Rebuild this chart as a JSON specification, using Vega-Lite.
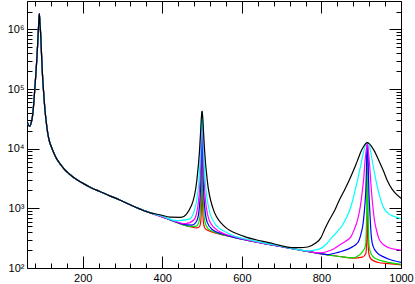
{
  "$schema": "https://vega.github.io/schema/vega-lite/v6.json",
  "width": 374,
  "height": 267,
  "autosize": "none",
  "padding": {"left": 27, "top": 1, "right": 14, "bottom": 16},
  "config": {
    "view": {"stroke": "black", "strokeWidth": 1},
    "axis": {"grid": false, "domain": false, "tickColor": "black", "tickWidth": 1, "labelColor": "black", "labelFont": "Liberation Sans", "labelFontSize": 11, "labelFlush": false, "labelOverlap": false, "title": null}
  },
  "data": {"values": [
    {"c":"r","x":60,"y":29000},{"c":"r","x":63,"y":25500},{"c":"r","x":67,"y":24000},{"c":"r","x":71,"y":28000},{"c":"r","x":74,"y":36000},{"c":"r","x":77,"y":58000},{"c":"r","x":80,"y":110000},{"c":"r","x":83,"y":210000},{"c":"r","x":86,"y":450000},{"c":"r","x":88,"y":830000},{"c":"r","x":89.5,"y":1300000},{"c":"r","x":91,"y":1850000},{"c":"r","x":92.5,"y":1300000},{"c":"r","x":94.5,"y":800000},{"c":"r","x":97,"y":320000},{"c":"r","x":99,"y":170000},{"c":"r","x":101,"y":105000},{"c":"r","x":105,"y":46000},{"c":"r","x":109,"y":26000},{"c":"r","x":112,"y":18400},{"c":"r","x":116,"y":13600},{"c":"r","x":120,"y":11300},{"c":"r","x":125,"y":9260},{"c":"r","x":130,"y":7800},{"c":"r","x":135,"y":6700},{"c":"r","x":140,"y":5960},{"c":"r","x":147,"y":5150},{"c":"r","x":155,"y":4440},{"c":"r","x":165,"y":3850},{"c":"r","x":180,"y":3200},{"c":"r","x":200,"y":2650},{"c":"r","x":220,"y":2235},{"c":"r","x":243,"y":1920},{"c":"r","x":268,"y":1622},{"c":"r","x":293,"y":1385},{"c":"r","x":318,"y":1160},{"c":"r","x":343,"y":980},{"c":"r","x":370,"y":840},
    {"c":"r","x":400,"y":720},{"c":"r","x":420,"y":640},{"c":"r","x":443,"y":560},{"c":"r","x":470,"y":492},{"c":"r","x":487.2,"y":471},{"c":"r","x":493.6,"y":494},{"c":"r","x":496.8,"y":613},{"c":"r","x":498.4,"y":1093},{"c":"r","x":499.2,"y":2916},{"c":"r","x":499.6,"y":8846},{"c":"r","x":499.8,"y":21445},{"c":"r","x":499.9,"y":34045},{"c":"r","x":500,"y":42444},{"c":"r","x":500.1,"y":34044},{"c":"r","x":500.2,"y":21444},{"c":"r","x":500.4,"y":8844},{"c":"r","x":500.8,"y":2913},{"c":"r","x":501.6,"y":1086},{"c":"r","x":503.2,"y":603},{"c":"r","x":506.4,"y":474},{"c":"r","x":512.8,"y":433},{"c":"r","x":540,"y":378},{"c":"r","x":570,"y":338},{"c":"r","x":600,"y":303},{"c":"r","x":650,"y":262},{"c":"r","x":700,"y":228},{"c":"r","x":750,"y":197},{"c":"r","x":800,"y":172},{"c":"r","x":845,"y":156},{"c":"r","x":880,"y":146},{"c":"r","x":903,"y":152},{"c":"r","x":911.5,"y":175},{"c":"r","x":913.5,"y":250},{"c":"r","x":914.5,"y":600},{"c":"r","x":915,"y":2000},{"c":"r","x":915.25,"y":6000},{"c":"r","x":915.5,"y":12700},{"c":"r","x":915.75,"y":6000},{"c":"r","x":916,"y":2000},{"c":"r","x":916.5,"y":600},{"c":"r","x":917.5,"y":250},{"c":"r","x":919.5,"y":170},{"c":"r","x":925,"y":140},{"c":"r","x":940,"y":125},{"c":"r","x":970,"y":118},{"c":"r","x":1000,"y":113},

    {"c":"g","x":60,"y":29000},{"c":"g","x":63,"y":25500},{"c":"g","x":67,"y":24000},{"c":"g","x":71,"y":28000},{"c":"g","x":74,"y":36000},{"c":"g","x":77,"y":58000},{"c":"g","x":80,"y":110000},{"c":"g","x":83,"y":210000},{"c":"g","x":86,"y":450000},{"c":"g","x":88,"y":830000},{"c":"g","x":89.5,"y":1300000},{"c":"g","x":91,"y":1850000},{"c":"g","x":92.5,"y":1300000},{"c":"g","x":94.5,"y":800000},{"c":"g","x":97,"y":320000},{"c":"g","x":99,"y":170000},{"c":"g","x":101,"y":105000},{"c":"g","x":105,"y":46000},{"c":"g","x":109,"y":26000},{"c":"g","x":112,"y":18400},{"c":"g","x":116,"y":13600},{"c":"g","x":120,"y":11300},{"c":"g","x":125,"y":9260},{"c":"g","x":130,"y":7800},{"c":"g","x":135,"y":6700},{"c":"g","x":140,"y":5960},{"c":"g","x":147,"y":5150},{"c":"g","x":155,"y":4440},{"c":"g","x":165,"y":3850},{"c":"g","x":180,"y":3200},{"c":"g","x":200,"y":2650},{"c":"g","x":220,"y":2235},{"c":"g","x":243,"y":1920},{"c":"g","x":268,"y":1622},{"c":"g","x":293,"y":1385},{"c":"g","x":318,"y":1160},{"c":"g","x":343,"y":980},{"c":"g","x":370,"y":840},
    {"c":"g","x":400,"y":720},{"c":"g","x":420,"y":640},{"c":"g","x":443,"y":560},{"c":"g","x":471.2,"y":498},{"c":"g","x":485.6,"y":505},{"c":"g","x":492.8,"y":618},{"c":"g","x":496.4,"y":1096},{"c":"g","x":498.2,"y":2917},{"c":"g","x":499.1,"y":8846},{"c":"g","x":499.55,"y":21445},{"c":"g","x":499.775,"y":34045},{"c":"g","x":500,"y":42444},{"c":"g","x":500.225,"y":34044},{"c":"g","x":500.45,"y":21444},{"c":"g","x":500.9,"y":8843},{"c":"g","x":501.8,"y":2911},{"c":"g","x":503.6,"y":1084},{"c":"g","x":507.2,"y":596},{"c":"g","x":514.4,"y":462},{"c":"g","x":528.8,"y":406},{"c":"g","x":560,"y":351},{"c":"g","x":600,"y":303},{"c":"g","x":650,"y":262},{"c":"g","x":700,"y":228},{"c":"g","x":750,"y":197},{"c":"g","x":800,"y":172},{"c":"g","x":845,"y":156},{"c":"g","x":877.9,"y":148},{"c":"g","x":895.5,"y":165},{"c":"g","x":903,"y":187},{"c":"g","x":908.5,"y":215},{"c":"g","x":911.5,"y":258},{"c":"g","x":913,"y":500},{"c":"g","x":914,"y":1050},{"c":"g","x":914.5,"y":2500},{"c":"g","x":915,"y":7000},{"c":"g","x":915.5,"y":12700},{"c":"g","x":916,"y":7000},{"c":"g","x":916.5,"y":2500},{"c":"g","x":917,"y":1050},{"c":"g","x":918,"y":500},{"c":"g","x":919.5,"y":250},{"c":"g","x":922.5,"y":190},{"c":"g","x":928,"y":160},{"c":"g","x":940,"y":140},{"c":"g","x":960,"y":128},{"c":"g","x":1000,"y":115},

    {"c":"b","x":60,"y":29000},{"c":"b","x":63,"y":25500},{"c":"b","x":67,"y":24000},{"c":"b","x":71,"y":28000},{"c":"b","x":74,"y":36000},{"c":"b","x":77,"y":58000},{"c":"b","x":80,"y":110000},{"c":"b","x":83,"y":210000},{"c":"b","x":86,"y":450000},{"c":"b","x":88,"y":830000},{"c":"b","x":89.5,"y":1300000},{"c":"b","x":91,"y":1850000},{"c":"b","x":92.5,"y":1300000},{"c":"b","x":94.5,"y":800000},{"c":"b","x":97,"y":320000},{"c":"b","x":99,"y":170000},{"c":"b","x":101,"y":105000},{"c":"b","x":105,"y":46000},{"c":"b","x":109,"y":26000},{"c":"b","x":112,"y":18400},{"c":"b","x":116,"y":13600},{"c":"b","x":120,"y":11300},{"c":"b","x":125,"y":9260},{"c":"b","x":130,"y":7800},{"c":"b","x":135,"y":6700},{"c":"b","x":140,"y":5960},{"c":"b","x":147,"y":5150},{"c":"b","x":155,"y":4440},{"c":"b","x":165,"y":3850},{"c":"b","x":180,"y":3200},{"c":"b","x":200,"y":2650},{"c":"b","x":220,"y":2235},{"c":"b","x":243,"y":1920},{"c":"b","x":268,"y":1622},{"c":"b","x":293,"y":1385},{"c":"b","x":318,"y":1160},{"c":"b","x":343,"y":980},{"c":"b","x":370,"y":840},
    {"c":"b","x":400,"y":720},{"c":"b","x":420,"y":640},{"c":"b","x":448.8,"y":549},{"c":"b","x":474.4,"y":523},{"c":"b","x":487.2,"y":625},{"c":"b","x":493.6,"y":1099},{"c":"b","x":496.8,"y":2919},{"c":"b","x":498.4,"y":8847},{"c":"b","x":499.2,"y":21446},{"c":"b","x":499.6,"y":34045},{"c":"b","x":500,"y":42444},{"c":"b","x":500.4,"y":34044},{"c":"b","x":500.8,"y":21443},{"c":"b","x":501.6,"y":8841},{"c":"b","x":503.2,"y":2909},{"c":"b","x":506.4,"y":1079},{"c":"b","x":512.8,"y":587},{"c":"b","x":525.6,"y":442},{"c":"b","x":551.2,"y":372},{"c":"b","x":600,"y":303},{"c":"b","x":650,"y":262},{"c":"b","x":700,"y":228},{"c":"b","x":750,"y":197},{"c":"b","x":790,"y":178},{"c":"b","x":815.5,"y":168},{"c":"b","x":844.5,"y":185},{"c":"b","x":865.5,"y":205},{"c":"b","x":877.9,"y":226},{"c":"b","x":887.5,"y":250},{"c":"b","x":894.7,"y":293},{"c":"b","x":900.5,"y":400},{"c":"b","x":904.7,"y":556},{"c":"b","x":908.5,"y":1000},{"c":"b","x":911.5,"y":2000},{"c":"b","x":913,"y":4000},{"c":"b","x":914,"y":8000},{"c":"b","x":915.5,"y":12700},{"c":"b","x":917,"y":8000},{"c":"b","x":918,"y":4000},{"c":"b","x":919.5,"y":1800},{"c":"b","x":922,"y":800},{"c":"b","x":925.5,"y":330},{"c":"b","x":930,"y":230},{"c":"b","x":940,"y":180},{"c":"b","x":955,"y":155},{"c":"b","x":970,"y":140},{"c":"b","x":1000,"y":124},

    {"c":"m","x":60,"y":29000},{"c":"m","x":63,"y":25500},{"c":"m","x":67,"y":24000},{"c":"m","x":71,"y":28000},{"c":"m","x":74,"y":36000},{"c":"m","x":77,"y":58000},{"c":"m","x":80,"y":110000},{"c":"m","x":83,"y":210000},{"c":"m","x":86,"y":450000},{"c":"m","x":88,"y":830000},{"c":"m","x":89.5,"y":1300000},{"c":"m","x":91,"y":1850000},{"c":"m","x":92.5,"y":1300000},{"c":"m","x":94.5,"y":800000},{"c":"m","x":97,"y":320000},{"c":"m","x":99,"y":170000},{"c":"m","x":101,"y":105000},{"c":"m","x":105,"y":46000},{"c":"m","x":109,"y":26000},{"c":"m","x":112,"y":18400},{"c":"m","x":116,"y":13600},{"c":"m","x":120,"y":11300},{"c":"m","x":125,"y":9260},{"c":"m","x":130,"y":7800},{"c":"m","x":135,"y":6700},{"c":"m","x":140,"y":5960},{"c":"m","x":147,"y":5150},{"c":"m","x":155,"y":4440},{"c":"m","x":165,"y":3850},{"c":"m","x":180,"y":3200},{"c":"m","x":200,"y":2650},{"c":"m","x":220,"y":2235},{"c":"m","x":243,"y":1920},{"c":"m","x":268,"y":1622},{"c":"m","x":293,"y":1385},{"c":"m","x":318,"y":1160},{"c":"m","x":343,"y":980},{"c":"m","x":370,"y":840},
    {"c":"m","x":400,"y":720},{"c":"m","x":416.8,"y":662},{"c":"m","x":458.4,"y":555},{"c":"m","x":479.2,"y":638},{"c":"m","x":489.6,"y":1103},{"c":"m","x":494.8,"y":2921},{"c":"m","x":497.4,"y":8848},{"c":"m","x":498.7,"y":21446},{"c":"m","x":499.35,"y":34045},{"c":"m","x":500,"y":42444},{"c":"m","x":500.65,"y":34043},{"c":"m","x":501.3,"y":21442},{"c":"m","x":502.6,"y":8840},{"c":"m","x":505.2,"y":2905},{"c":"m","x":510.4,"y":1073},{"c":"m","x":520.8,"y":573},{"c":"m","x":541.6,"y":417},{"c":"m","x":583.2,"y":332},{"c":"m","x":620,"y":288},{"c":"m","x":670,"y":248},{"c":"m","x":720,"y":216},{"c":"m","x":760,"y":193},{"c":"m","x":794.5,"y":180},{"c":"m","x":825.5,"y":200},{"c":"m","x":844.5,"y":240},{"c":"m","x":860.5,"y":280},{"c":"m","x":873.9,"y":333},{"c":"m","x":882.5,"y":440},{"c":"m","x":890.5,"y":631},{"c":"m","x":897.5,"y":1050},{"c":"m","x":903,"y":2000},{"c":"m","x":906.5,"y":3300},{"c":"m","x":909.7,"y":6310},{"c":"m","x":913,"y":10000},{"c":"m","x":915.5,"y":12700},{"c":"m","x":918,"y":9000},{"c":"m","x":921,"y":5500},{"c":"m","x":924,"y":2800},{"c":"m","x":928,"y":1300},{"c":"m","x":933,"y":650},{"c":"m","x":940,"y":390},{"c":"m","x":945,"y":305},{"c":"m","x":955,"y":250},{"c":"m","x":970,"y":218},{"c":"m","x":985,"y":206},{"c":"m","x":1000,"y":200},

    {"c":"c","x":60,"y":29000},{"c":"c","x":63,"y":25500},{"c":"c","x":67,"y":24000},{"c":"c","x":71,"y":28000},{"c":"c","x":74,"y":36000},{"c":"c","x":77,"y":58000},{"c":"c","x":80,"y":110000},{"c":"c","x":83,"y":210000},{"c":"c","x":86,"y":450000},{"c":"c","x":88,"y":830000},{"c":"c","x":89.5,"y":1300000},{"c":"c","x":91,"y":1850000},{"c":"c","x":92.5,"y":1300000},{"c":"c","x":94.5,"y":800000},{"c":"c","x":97,"y":320000},{"c":"c","x":99,"y":170000},{"c":"c","x":101,"y":105000},{"c":"c","x":105,"y":46000},{"c":"c","x":109,"y":26000},{"c":"c","x":112,"y":18400},{"c":"c","x":116,"y":13600},{"c":"c","x":120,"y":11300},{"c":"c","x":125,"y":9260},{"c":"c","x":130,"y":7800},{"c":"c","x":135,"y":6700},{"c":"c","x":140,"y":5960},{"c":"c","x":147,"y":5150},{"c":"c","x":155,"y":4440},{"c":"c","x":165,"y":3850},{"c":"c","x":180,"y":3200},{"c":"c","x":200,"y":2650},{"c":"c","x":220,"y":2235},{"c":"c","x":243,"y":1920},{"c":"c","x":268,"y":1622},{"c":"c","x":293,"y":1385},{"c":"c","x":318,"y":1160},{"c":"c","x":343,"y":980},{"c":"c","x":370,"y":840},
    {"c":"c","x":400,"y":737},{"c":"c","x":436,"y":621},{"c":"c","x":468,"y":658},{"c":"c","x":484,"y":1112},{"c":"c","x":492,"y":2925},{"c":"c","x":496,"y":8850},{"c":"c","x":498,"y":21447},{"c":"c","x":499,"y":34046},{"c":"c","x":500,"y":42444},{"c":"c","x":501,"y":34043},{"c":"c","x":502,"y":21441},{"c":"c","x":504,"y":8837},{"c":"c","x":508,"y":2901},{"c":"c","x":516,"y":1064},{"c":"c","x":532,"y":555},{"c":"c","x":564,"y":387},{"c":"c","x":628,"y":288},{"c":"c","x":670,"y":252},{"c":"c","x":700,"y":231},{"c":"c","x":740,"y":204},{"c":"c","x":765.5,"y":194},{"c":"c","x":794.5,"y":207},{"c":"c","x":815.5,"y":265},{"c":"c","x":827.7,"y":333},{"c":"c","x":840.5,"y":410},{"c":"c","x":852.8,"y":521},{"c":"c","x":865.5,"y":760},{"c":"c","x":873.9,"y":1052},{"c":"c","x":882.5,"y":1750},{"c":"c","x":890.5,"y":2930},{"c":"c","x":897.5,"y":4800},{"c":"c","x":903,"y":7160},{"c":"c","x":910.5,"y":11500},{"c":"c","x":915.5,"y":12700},{"c":"c","x":920.5,"y":11500},{"c":"c","x":923.5,"y":9000},{"c":"c","x":932.2,"y":4300},{"c":"c","x":940.5,"y":2300},{"c":"c","x":957.3,"y":1000},{"c":"c","x":970.5,"y":800},{"c":"c","x":985.5,"y":720},{"c":"c","x":1000,"y":673},

    {"c":"k","x":60,"y":29000},{"c":"k","x":63,"y":25500},{"c":"k","x":67,"y":24000},{"c":"k","x":71,"y":28000},{"c":"k","x":74,"y":36000},{"c":"k","x":77,"y":58000},{"c":"k","x":80,"y":110000},{"c":"k","x":83,"y":210000},{"c":"k","x":86,"y":450000},{"c":"k","x":88,"y":830000},{"c":"k","x":89.5,"y":1300000},{"c":"k","x":91,"y":1850000},{"c":"k","x":92.5,"y":1300000},{"c":"k","x":94.5,"y":800000},{"c":"k","x":97,"y":320000},{"c":"k","x":99,"y":170000},{"c":"k","x":101,"y":105000},{"c":"k","x":105,"y":46000},{"c":"k","x":109,"y":26000},{"c":"k","x":112,"y":18400},{"c":"k","x":116,"y":13600},{"c":"k","x":120,"y":11300},{"c":"k","x":125,"y":9260},{"c":"k","x":130,"y":7800},{"c":"k","x":135,"y":6700},{"c":"k","x":140,"y":5960},{"c":"k","x":147,"y":5150},{"c":"k","x":155,"y":4440},{"c":"k","x":165,"y":3850},{"c":"k","x":180,"y":3200},{"c":"k","x":200,"y":2650},{"c":"k","x":220,"y":2235},{"c":"k","x":243,"y":1920},{"c":"k","x":268,"y":1622},{"c":"k","x":293,"y":1385},{"c":"k","x":318,"y":1160},{"c":"k","x":343,"y":980},{"c":"k","x":370,"y":840},
    {"c":"k","x":394.4,"y":782},{"c":"k","x":420,"y":711},{"c":"k","x":447.2,"y":707},{"c":"k","x":473.6,"y":1130},{"c":"k","x":486.8,"y":2932},{"c":"k","x":493.4,"y":8853},{"c":"k","x":496.7,"y":21449},{"c":"k","x":498.35,"y":34046},{"c":"k","x":500,"y":42444},{"c":"k","x":501.65,"y":34041},{"c":"k","x":503.3,"y":21438},{"c":"k","x":506.6,"y":8833},{"c":"k","x":513.2,"y":2893},{"c":"k","x":526.4,"y":1046},{"c":"k","x":552.8,"y":524},{"c":"k","x":605.6,"y":339},{"c":"k","x":650,"y":282},{"c":"k","x":680,"y":255},{"c":"k","x":700,"y":236},{"c":"k","x":715.5,"y":224},{"c":"k","x":730,"y":219},{"c":"k","x":745,"y":219},{"c":"k","x":765.5,"y":225},{"c":"k","x":785.5,"y":262},{"c":"k","x":798.5,"y":320},{"c":"k","x":808.5,"y":450},{"c":"k","x":819.5,"y":631},{"c":"k","x":832.5,"y":900},{"c":"k","x":844.5,"y":1360},{"c":"k","x":857.5,"y":2000},{"c":"k","x":869.5,"y":2930},{"c":"k","x":880.5,"y":4300},{"c":"k","x":890.5,"y":6310},{"c":"k","x":900.5,"y":9300},{"c":"k","x":907.2,"y":11200},{"c":"k","x":911.5,"y":12300},{"c":"k","x":915.5,"y":12700},{"c":"k","x":919.5,"y":12300},{"c":"k","x":924.5,"y":11300},{"c":"k","x":932.5,"y":9300},{"c":"k","x":944.5,"y":6310},{"c":"k","x":955.5,"y":4300},{"c":"k","x":965.5,"y":2930},{"c":"k","x":977.5,"y":2100},{"c":"k","x":987.5,"y":1750},{"c":"k","x":1000,"y":1470}
  ]},
  "layer": [
    {
      "mark": {"type": "line", "strokeWidth": 1.2, "clip": true, "interpolate": "monotone"},
      "encoding": {
        "x": {"field": "x", "type": "quantitative", "scale": {"domain": [60, 1000], "nice": false, "zero": false},
              "axis": {"orient": "bottom", "values": [200, 400, 600, 800, 1000], "tickSize": -12, "labelPadding": 16, "format": "d"}},
        "y": {"field": "y", "type": "quantitative", "scale": {"type": "log", "domain": [100, 3000000], "nice": false},
              "axis": {"orient": "left", "values": [100, 1000, 10000, 100000, 1000000], "tickSize": -12, "labelPadding": 15,
                       "labelExpr": "datum.value == 100 ? '10²' : datum.value == 1000 ? '10³' : datum.value == 10000 ? '10⁴' : datum.value == 100000 ? '10⁵' : '10⁶'"}},
        "color": {"field": "c", "type": "nominal", "legend": null,
                  "scale": {"domain": ["r", "g", "b", "m", "c", "k"], "range": ["#ff0000", "#00e000", "#0000ff", "#ff00ff", "#00ffff", "#000000"]}}
      }
    },
    {
      "data": {"values": [{"x": 500, "y": 1000}]},
      "mark": {"type": "point", "opacity": 0},
      "encoding": {
        "x": {"field": "x", "type": "quantitative", "axis": {"orient": "bottom", "values": [80,120,160,240,280,320,360,440,480,520,560,640,680,720,760,840,880,920,960], "tickSize": -5, "labels": false}},
        "y": {"field": "y", "type": "quantitative", "axis": {"orient": "left", "values": [200,300,400,500,600,700,800,900,2000,3000,4000,5000,6000,7000,8000,9000,20000,30000,40000,50000,60000,70000,80000,90000,200000,300000,400000,500000,600000,700000,800000,900000,2000000,3000000], "tickSize": -5, "labels": false}}
      }
    },
    {
      "data": {"values": [{"x": 500, "y": 1000}]},
      "mark": {"type": "point", "opacity": 0},
      "encoding": {
        "x": {"field": "x", "type": "quantitative", "axis": {"orient": "top", "values": [200, 400, 600, 800, 1000], "tickSize": -12, "labels": false}},
        "y": {"field": "y", "type": "quantitative", "axis": {"orient": "right", "values": [100, 1000, 10000, 100000, 1000000], "tickSize": -12, "labels": false}}
      }
    },
    {
      "data": {"values": [{"x": 500, "y": 1000}]},
      "mark": {"type": "point", "opacity": 0},
      "encoding": {
        "x": {"field": "x", "type": "quantitative", "axis": {"orient": "top", "values": [80,120,160,240,280,320,360,440,480,520,560,640,680,720,760,840,880,920,960], "tickSize": -5, "labels": false}},
        "y": {"field": "y", "type": "quantitative", "axis": {"orient": "right", "values": [200,300,400,500,600,700,800,900,2000,3000,4000,5000,6000,7000,8000,9000,20000,30000,40000,50000,60000,70000,80000,90000,200000,300000,400000,500000,600000,700000,800000,900000,2000000,3000000], "tickSize": -5, "labels": false}}
      }
    }
  ],
  "resolve": {"axis": {"x": "independent", "y": "independent"}}
}
